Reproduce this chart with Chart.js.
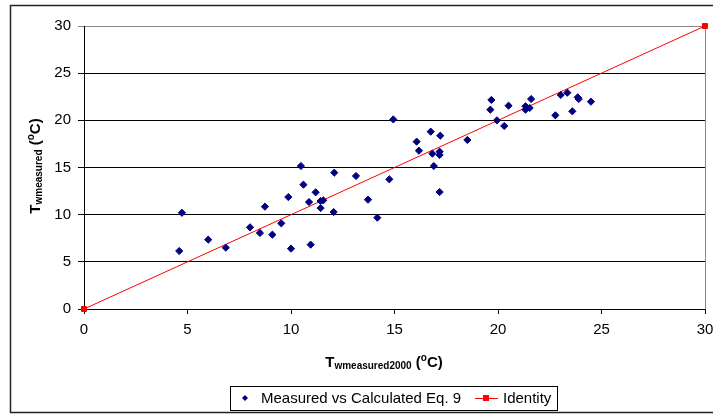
<!DOCTYPE html>
<html>
<head>
<meta charset="utf-8">
<script src="https://cdn.jsdelivr.net/npm/chart.js@4.4.0/dist/chart.umd.min.js"></script>
<style>
  html, body { margin: 0; padding: 0; background: #fff; }
  #wrap { width: 713px; height: 414px; }
</style>
</head>
<body>
<div id="wrap"><canvas id="chart"></canvas></div>
<script>
// measured points
const calcX = [4.73, 4.6, 6.0, 6.85, 8.02, 8.5, 8.74, 9.1, 9.53, 9.87, 10.0, 10.48, 10.6, 11.19, 10.87,
  11.43, 11.56, 11.43, 12.09, 12.06, 13.14, 13.72, 14.17, 14.75, 10.95, 14.94, 16.75, 17.21, 16.07,
  16.18, 16.83, 17.18, 17.18, 16.9, 18.52, 17.18, 19.68, 19.63, 19.95, 20.3, 20.51, 21.33, 21.33,
  21.53, 21.6, 22.77, 23.03, 23.35, 23.59, 23.85, 23.9, 24.49];
const measY = [10.2, 6.15, 7.35, 6.5, 8.66, 8.06, 10.85, 7.88, 9.08, 11.87, 6.4, 15.16, 13.18, 12.37, 11.34,
  11.45, 11.52, 10.7, 14.45, 10.28, 14.1, 11.59, 9.68, 13.75, 6.82, 20.1, 18.8, 18.37, 17.74,
  16.78, 16.47, 16.68, 16.33, 15.16, 17.92, 12.4, 22.16, 21.13, 20.0, 19.4, 21.55, 21.49, 21.13,
  21.31, 22.26, 20.53, 22.69, 22.93, 20.96, 22.44, 22.26, 21.98];
const identityX = [0, 30];
const identityY = [0, 30];
const tickValues = [0, 5, 10, 15, 20, 25, 30];
const seriesNames = ['Measured vs Calculated Eq. 9', 'Identity'];

const FONT = '"Liberation Sans", Arial, sans-serif';

// axis titles with subscript / superscript, drawn as text pieces
function drawTitle(ctx, parts) {
  let w = 0;
  parts.forEach(p => { ctx.font = 'bold ' + p.size + 'px ' + FONT; p.w = ctx.measureText(p.t).width; w += p.w; });
  let x = -w / 2;
  parts.forEach(p => {
    ctx.font = 'bold ' + p.size + 'px ' + FONT;
    ctx.fillText(p.t, x, p.dy);
    x += p.w;
  });
}

const titlesAndFrame = {
  id: 'titlesAndFrame',
  afterDraw(chart) {
    const ctx = chart.ctx;
    ctx.save();
    // outer chart border
    ctx.strokeStyle = '#222';
    ctx.lineWidth = 1.5;
    ctx.beginPath();
    ctx.moveTo(720, 5.5); ctx.lineTo(10.5, 5.5); ctx.lineTo(10.5, 412.5); ctx.lineTo(720, 412.5);
    ctx.stroke();

    ctx.fillStyle = '#000';
    ctx.textBaseline = 'alphabetic';
    ctx.textAlign = 'left';
    const xParts = [
      { t: 'T', size: 15, dy: 0 },
      { t: 'wmeasured2000', size: 10, dy: 2 },
      { t: ' (', size: 15, dy: 0 },
      { t: 'o', size: 10, dy: -6 },
      { t: 'C)', size: 15, dy: 0 }
    ];
    ctx.save();
    ctx.translate(384, 367);
    drawTitle(ctx, xParts);
    ctx.restore();

    const yParts = [
      { t: 'T', size: 15, dy: 0 },
      { t: 'wmeasured', size: 10, dy: 2 },
      { t: ' (', size: 15, dy: 0 },
      { t: 'o', size: 10, dy: -6 },
      { t: 'C)', size: 15, dy: 0 }
    ];
    ctx.save();
    ctx.translate(40, 166);
    ctx.rotate(-Math.PI / 2);
    drawTitle(ctx, yParts);
    ctx.restore();

    // legend box
    ctx.strokeStyle = '#000';
    ctx.lineWidth = 1;
    ctx.strokeRect(230.5, 386.5, 327, 24);
    ctx.font = '15px ' + FONT;
    ctx.textBaseline = 'middle';
    // diamond
    ctx.fillStyle = '#000080';
    ctx.beginPath();
    ctx.moveTo(245, 395); ctx.lineTo(248, 398); ctx.lineTo(245, 401); ctx.lineTo(242, 398);
    ctx.closePath(); ctx.fill();
    ctx.fillStyle = '#000';
    ctx.fillText(seriesNames[0], 261, 399);
    // red line + square
    ctx.strokeStyle = '#ff0000';
    ctx.beginPath(); ctx.moveTo(475, 398.5); ctx.lineTo(498, 398.5); ctx.stroke();
    ctx.fillStyle = '#ff0000';
    ctx.fillRect(483, 395, 6, 6);
    ctx.fillStyle = '#000';
    ctx.fillText(seriesNames[1], 503, 399);
    ctx.restore();
  }
};

new Chart(document.getElementById('chart'), {
  type: 'scatter',
  data: {
    datasets: [
      {
        label: seriesNames[0],
        data: calcX.map((x, i) => ({ x: x, y: measY[i] })),
        pointStyle: 'rectRot',
        radius: 3.6,
        backgroundColor: '#000080',
        borderColor: '#000080',
        borderWidth: 1
      },
      {
        label: seriesNames[1],
        data: identityX.map((x, i) => ({ x: x, y: identityY[i] })),
        showLine: true,
        clip: false,
        pointStyle: 'rect',
        pointRadius: 3.5,
        borderColor: '#ff0000',
        backgroundColor: '#ff0000',
        pointBackgroundColor: '#ff0000',
        pointBorderColor: '#ff0000',
        borderWidth: 1
      }
    ]
  },
  options: {
    responsive: true,
    maintainAspectRatio: false,
    animation: false,
    layout: { padding: { top: 26, right: 8, bottom: 75, left: 0 } },
    plugins: { legend: { display: false }, tooltip: { enabled: false } },
    scales: {
      x: {
        type: 'linear', min: 0, max: 30,
        afterBuildTicks: s => { s.ticks = tickValues.map(v => ({ value: v })); },
        afterFit: s => { s.height = 30; s.paddingLeft = 0; s.paddingRight = 0; },
        border: { color: '#000', width: 1 },
        grid: { drawOnChartArea: false, color: '#000', tickLength: 5 },
        ticks: { color: '#000', font: { family: FONT, size: 15 }, padding: 7, maxRotation: 0 }
      },
      y: {
        type: 'linear', min: 0, max: 30,
        afterBuildTicks: s => { s.ticks = tickValues.map(v => ({ value: v })); },
        afterFit: s => { s.width = 84; s.paddingTop = 0; s.paddingBottom = 0; },
        border: { color: '#000', width: 1 },
        grid: {
          color: ctx => (ctx.tick && ctx.tick.value === 30) ? '#888' : '#000',
          tickLength: 6, lineWidth: 1
        },
        ticks: { color: '#000', font: { family: FONT, size: 15 }, padding: 7 }
      }
    }
  },
  plugins: [titlesAndFrame, {
    id: 'rightEdge',
    beforeDatasetsDraw(chart) {
      const a = chart.chartArea, ctx = chart.ctx;
      ctx.save();
      ctx.strokeStyle = '#888';
      ctx.lineWidth = 1;
      ctx.beginPath();
      ctx.moveTo(Math.round(a.right) + 0.5, a.top);
      ctx.lineTo(Math.round(a.right) + 0.5, a.bottom);
      ctx.stroke();
      ctx.restore();
    }
  }]
});
</script>
</body>
</html>
